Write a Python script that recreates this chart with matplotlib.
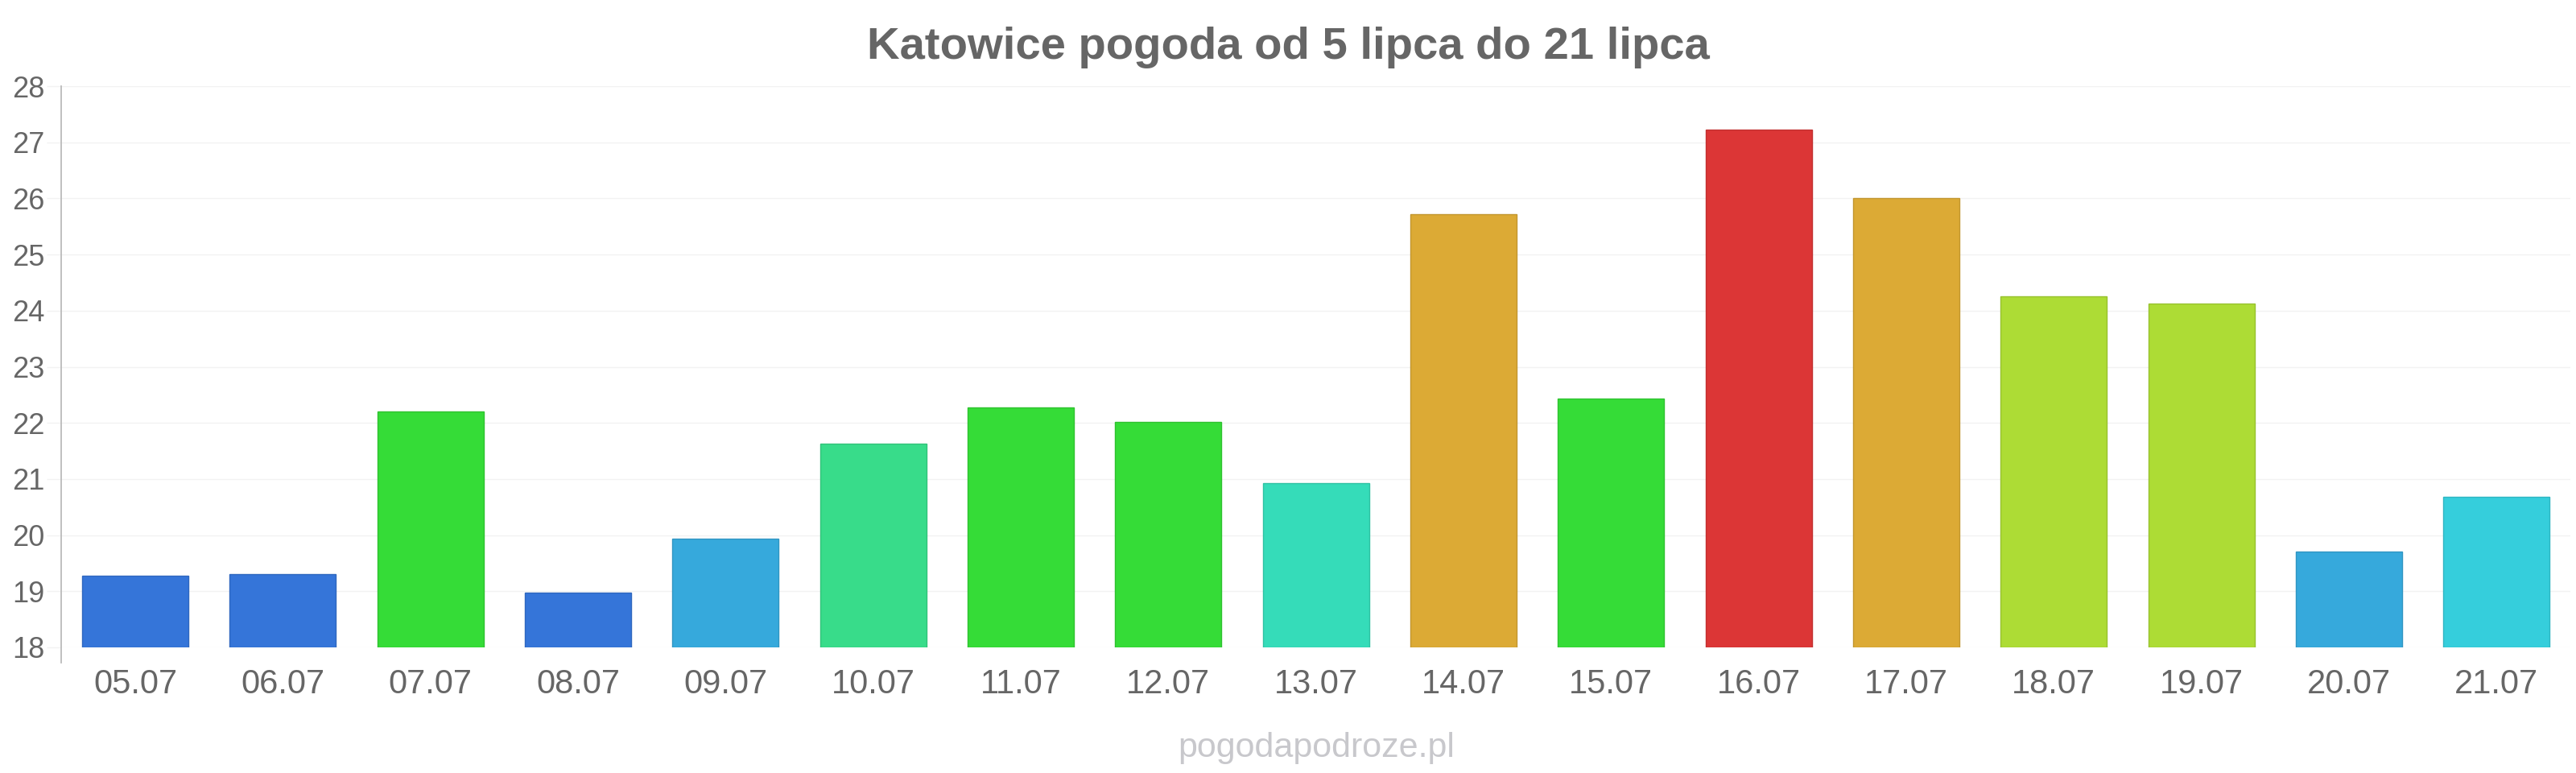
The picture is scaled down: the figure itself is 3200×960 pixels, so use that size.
import matplotlib
matplotlib.use("Agg")
import matplotlib.pyplot as plt
from matplotlib.lines import Line2D
import matplotlib.colors as mcolors

plt.rcParams['font.family'] = ['Liberation Sans', 'DejaVu Sans']

dates = ["05.07", "06.07", "07.07", "08.07", "09.07", "10.07", "11.07", "12.07", "13.07",
         "14.07", "15.07", "16.07", "17.07", "18.07", "19.07", "20.07", "21.07"]
temps = [19.27, 19.31, 22.2, 18.98, 19.94, 21.63, 22.28, 22.02, 20.93,
         25.72, 22.43, 27.22, 26.0, 24.25, 24.13, 19.71, 20.68]
bar_colors = ["#3575d9", "#3575d9", "#35dc37", "#3575d9", "#36a9dc", "#38dc8a", "#35dc37",
              "#35dc37", "#35dcb9", "#dcaa35", "#35dc37", "#dc3636", "#dcaa35", "#addc35",
              "#addc35", "#36a9dc", "#35cedc"]
y_ticks = [18, 19, 20, 21, 22, 23, 24, 25, 26, 27, 28]
title = "Katowice pogoda od 5 lipca do 21 lipca"
watermark = "pogodapodroze.pl"

fig = plt.figure(figsize=(32, 9.6), dpi=100)
ax = fig.add_axes([0.0239, 0.1625, 0.9739, 0.726])

def darker(c, f=0.88):
    r, g, b = mcolors.to_rgb(c)
    return (r * f, g * f, b * f)

x = list(range(len(dates)))
ax.bar(x, [t - 18 for t in temps], bottom=18, width=0.72, color=bar_colors,
       edgecolor=[darker(c) for c in bar_colors], linewidth=1.0, zorder=3)

ax.set_xlim(-0.5, len(dates) - 0.5)
ax.set_ylim(18, 28)
ax.set_yticks(y_ticks)
ax.set_yticklabels([str(v) for v in y_ticks])
ax.set_xticks(x)
ax.set_xticklabels(dates)

for s in ax.spines.values():
    s.set_visible(False)
ax.add_line(Line2D([0, 0], [-0.027, 1.0], transform=ax.transAxes, color="#bbbbbb",
                   linewidth=1.3, clip_on=False, zorder=4))

ax.grid(axis='y', color='#f2f2f2', linewidth=1.0, zorder=0)
ax.grid(axis='x', visible=False)
ax.tick_params(axis='y', length=13, width=1.0, color='#f2f2f2', pad=2,
               labelsize=26, labelcolor='#666666')
ax.tick_params(axis='x', length=0, pad=19, labelsize=30, labelcolor='#666666')

fig.text(0.5, 1 - 73 / 960, title, ha='center', va='baseline', fontsize=40.5,
         fontweight='bold', color='#666666')
fig.text(0.5109, 1 - 940 / 960, watermark, ha='center', va='baseline',
         fontsize=31, color='#c8c8cc')

fig.savefig("out.png", dpi=100, facecolor='white')
